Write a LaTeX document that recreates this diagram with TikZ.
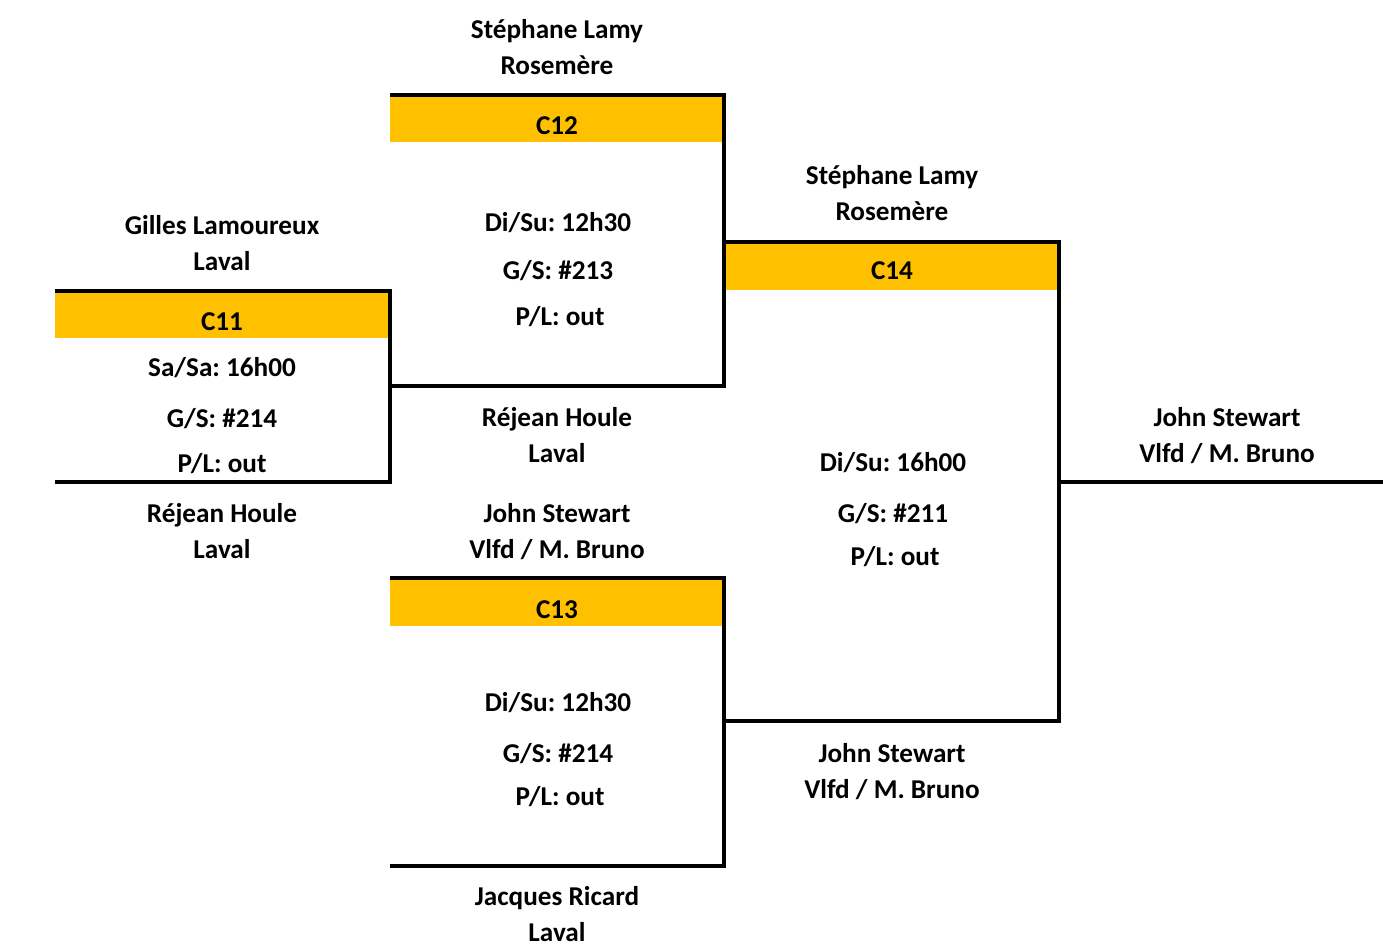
\documentclass[tikz,border=0pt]{standalone}
\usepackage{fontspec}
\setmainfont{Carlito}
\frenchspacing
\usetikzlibrary{positioning}
\definecolor{gold}{HTML}{FFC000}

\tikzset{
  bline/.style={line width=3.6pt,line join=miter,line cap=butt},
  band/.style={fill=gold},
  txt/.style={font=\bfseries\fontsize{20.4}{27}\selectfont,inner sep=0pt,anchor=base,align=center},
}

\begin{document}
\begin{tikzpicture}[x=0.75pt,y=-0.75pt]
\useasboundingbox (0,0) rectangle (1383,951);
% C11
\fill[band] (55,293) rectangle (388,338);
\draw[bline] (55,291) -- (390,291) -- (390,482) -- (55,482);
\node[txt] (p11a) at (222,270) {Gilles Lamoureux\\Laval};
\node[txt] (c11) at (222,330) {C11};
\node[txt] (t11) at (222,376) {Sa/Sa: 16h00};
\node[txt] (g11) at (222,427) {G/S: \#214};
\node[txt] (l11) at (222,472) {P/L: out};
\node[txt] (p11b) at (222,558) {Réjean Houle\\Laval};
%
% C12
\fill[band] (390,97) rectangle (722,142);
\draw[bline] (390,95) -- (724,95) -- (724,386) -- (390,386);
\node[txt] (p12a) at (557,74) {Stéphane Lamy\\Rosemère};
\node[txt] (c12) at (557,134) {C12};
\node[txt] (t12) at (558,231) {Di/Su: 12h30};
\node[txt] (g12) at (558,279) {G/S: \#213};
\node[txt] (l12) at (560,325) {P/L: out};
\node[txt] (p12b) at (557,462) {Réjean Houle\\Laval};
%
% C13
\fill[band] (390,580) rectangle (722,626);
\draw[bline] (390,578) -- (724,578) -- (724,866) -- (390,866);
\node[txt] (p13a) at (557,558) {John Stewart\\Vlfd / M. Bruno};
\node[txt] (c13) at (557,618) {C13};
\node[txt] (t13) at (558,711) {Di/Su: 12h30};
\node[txt] (g13) at (558,762) {G/S: \#214};
\node[txt] (l13) at (560,805) {P/L: out};
\node[txt] (p13b) at (557,941) {Jacques Ricard\\Laval};
%
% C14
\fill[band] (726,244) rectangle (1057,290);
\draw[bline] (724,242) -- (1059,242) -- (1059,721) -- (724,721);
\node[txt] (p14a) at (892,220) {Stéphane Lamy\\Rosemère};
\node[txt] (c14) at (892,279) {C14};
\node[txt] (t14) at (893,471) {Di/Su: 16h00};
\node[txt] (g14) at (893,522) {G/S: \#211};
\node[txt] (l14) at (895,565) {P/L: out};
\node[txt] (p14b) at (892,798) {John Stewart\\Vlfd / M. Bruno};
%
% winner
\draw[bline] (1059,482) -- (1383,482);
\node[txt] (win) at (1227,462) {John Stewart\\Vlfd / M. Bruno};
\end{tikzpicture}
\end{document}
